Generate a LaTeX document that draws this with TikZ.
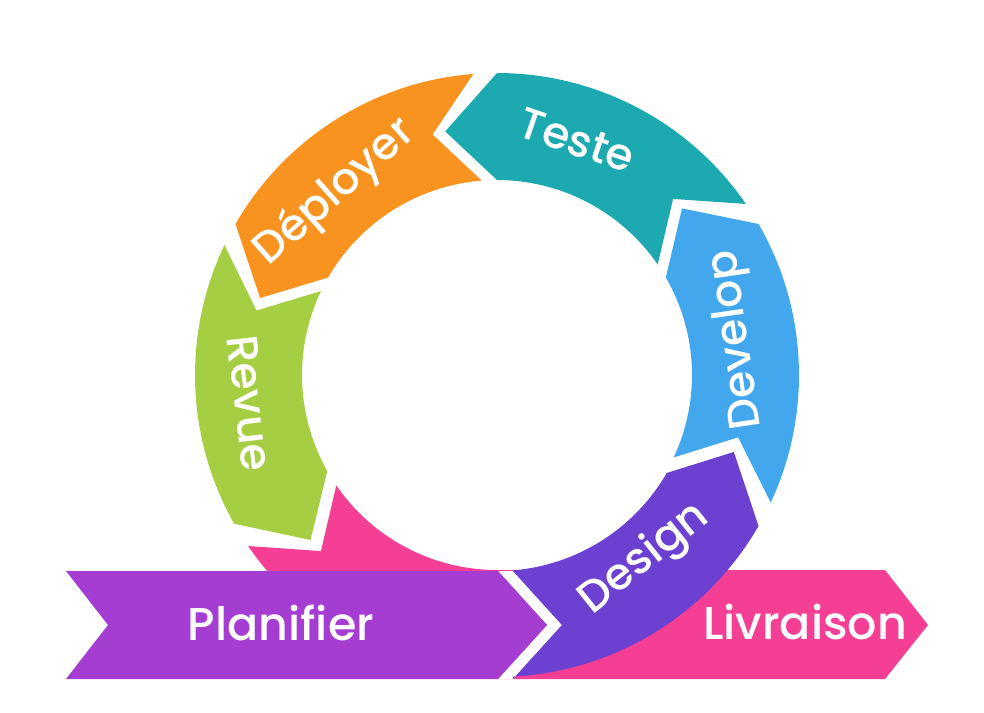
\documentclass[tikz,border=0pt]{standalone}
\usepackage{fontspec}
\usepackage{tikz}
\newfontfamily\cyclefont{Poppins}[UprightFont={* Medium}]
\definecolor{cycorange}{HTML}{F7931E}
\definecolor{cycteal}{HTML}{1DA9B0}
\definecolor{cycblue}{HTML}{42A7EC}
\definecolor{cycgreen}{HTML}{A6CE42}
\definecolor{cycpink}{HTML}{F43F94}
\definecolor{cycplum}{HTML}{A53DD3}
\definecolor{cycviolet}{HTML}{6C41D1}

\begin{document}
\begin{tikzpicture}[
  x=0.5pt, y=0.5pt,
  phase label/.style={text=white, inner sep=0pt, font=\cyclefont\fontsize{22}{22}\selectfont},
  banner label/.style={phase label, font=\cyclefont\fontsize{23}{23}\selectfont}
]
\useasboundingbox (-497,-337) rectangle (487,375);

% livraison: arc + banner behind everything
\fill[cycpink] (214.5:302) -- (225:249) -- (214.5:195) arc[start angle=214.5, end angle=270, radius=195]
  -- (388,-195) -- (431,-250) -- (388,-304) -- (0,-304) -- (270:302)
  arc[start angle=270, end angle=214.5, radius=302] -- cycle;
\fill[white] (1,-196) -- (16,-196) -- (65,-250) -- (16,-304) -- (1,-304) -- (50,-250) -- cycle;

% planifier banner
\fill[cycplum] (-431,-196) -- (1,-196) -- (50,-250) -- (1,-304) -- (-431,-304) -- (-389,-250) -- cycle;

% ring segments
\fill[cycviolet] (16,-304) -- (65,-250) -- (16,-196) -- (-85.3:196)
  arc[start angle=-85.3, end angle=-30, radius=196] -- (-18:249) -- (-30:302)
  arc[start angle=-30, end angle=-87, radius=302] -- cycle;
\fill[cycblue] (-25:302) -- (-14.5:249) -- (-25:195) arc[start angle=-25, end angle=30, radius=195]
  -- (42:249) -- (30:302) arc[start angle=30, end angle=-25, radius=302] -- cycle;
\fill[cycteal] (34.5:302) -- (45:249) -- (34.5:195) arc[start angle=34.5, end angle=90, radius=195]
  -- (102:249) -- (90:302) arc[start angle=90, end angle=34.5, radius=302] -- cycle;
\fill[cycorange] (94.5:302) -- (105:249) -- (94.5:195) arc[start angle=94.5, end angle=150, radius=195]
  -- (162:249) -- (150:302) arc[start angle=150, end angle=94.5, radius=302] -- cycle;
\fill[cycgreen] (154.5:302) -- (165:249) -- (154.5:195) arc[start angle=154.5, end angle=209.5, radius=195]
  -- (221.5:249) -- (209.5:302) arc[start angle=209.5, end angle=154.5, radius=302] -- cycle;

% labels
\node[banner label] (planifier) at (-216,-248) {Planifier};
\node[banner label] (livraison) at (308,-247) {Livraison};
\node[phase label, rotate=38.7] (design) at (-51.3:236) {Design};
\node[phase label, rotate=98.3] (develop) at (8.3:243) {Develop};
\node[phase label, rotate=-18.8] (teste) at (71.2:248) {Teste};
\node[phase label, rotate=41.6] (deployer) at (131.6:244) {Déployer};
\node[phase label, rotate=-83.5] (revue) at (186.5:249) {Revue};
\end{tikzpicture}
\end{document}
